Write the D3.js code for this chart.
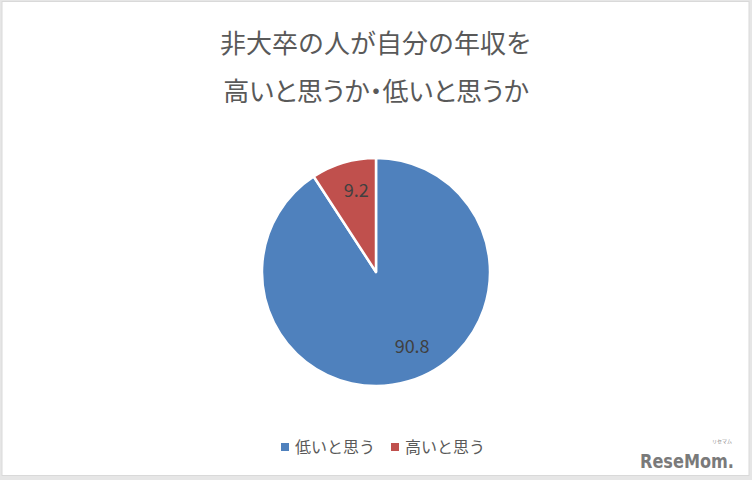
<!DOCTYPE html>
<html><head><meta charset="utf-8">
<script src="https://cdn.jsdelivr.net/npm/d3@7/dist/d3.min.js"></script>
<style>
html,body{margin:0;padding:0;background:#fff;}
svg{display:block;font-family:"Noto Sans CJK JP","Noto Sans",sans-serif;}
</style></head>
<body>
<svg id="c" width="752" height="480"></svg>
<script>
const titleLines = ["非大卒の人が自分の年収を", "高いと思うか・低いと思うか"];
const categories = ["低いと思う", "高いと思う"];
const values = [90.8, 9.2];
const colors = ["#4F81BD", "#C0504D"];

const W = 752, H = 480;
const svg = d3.select("#c");

// frame
svg.append("rect").attr("x", 0).attr("y", 0).attr("width", W).attr("height", H).attr("fill", "#e6e6e6");
svg.append("rect").attr("x", 2).attr("y", 1.5).attr("width", W - 5).attr("height", H - 6)
  .attr("fill", "#fff").attr("stroke", "#d9d9d9").attr("stroke-width", 1);

// title
svg.append("g").selectAll("text").data(titleLines).join("text")
  .attr("x", 376).attr("y", (d, i) => 53 + i * 48)
  .attr("text-anchor", "middle").attr("font-size", 26).attr("fill", "#595959")
  .style("font-feature-settings", (d, i) => i === 1 ? '"palt"' : "normal")
  .text(d => d);

// pie
const cx = 376, cy = 272, r = 114;
const data = categories.map((c, i) => ({ cat: c, value: values[i], color: colors[i] }));
const pie = d3.pie().value(d => d.value).sort(null);
const arcs = pie(data);
const arc = d3.arc().innerRadius(0).outerRadius(r);
const g = svg.append("g").attr("transform", `translate(${cx},${cy})`);
g.selectAll("path").data(arcs).join("path")
  .attr("d", arc).attr("fill", d => d.data.color)
  .attr("stroke", "#fff").attr("stroke-width", 2.5).attr("stroke-linejoin", "round");

// labels (Excel best-fit: shift big label slightly)
const labelR = r * 0.73;
const angleShift = [-0.16, 0.05];
g.selectAll("text.lbl").data(arcs).join("text").attr("class", "lbl")
  .attr("transform", (d, i) => {
    const a = (d.startAngle + d.endAngle) / 2 + angleShift[i];
    return `translate(${labelR * Math.sin(a)},${-labelR * Math.cos(a)})`;
  })
  .attr("text-anchor", "middle").attr("dy", "0.35em")
  .attr("font-size", 18).attr("fill", "#404040")
  .text(d => d.data.value.toFixed(1));

// legend
const legX = [285, 395];
const leg = svg.append("g").selectAll("g").data(data).join("g")
  .attr("transform", (d, i) => `translate(${legX[i]},447)`);
leg.append("rect").attr("x", -4).attr("y", -4).attr("width", 8).attr("height", 8).attr("fill", d => d.color);
leg.append("text").attr("x", 10).attr("dy", "0.35em").attr("font-size", 16).attr("fill", "#595959").text(d => d.cat);

// logo
svg.append("text").attr("x", 640).attr("y", 468).attr("font-size", 20).attr("font-weight", "bold")
  .attr("font-family", "'DejaVu Sans',sans-serif").attr("fill", "#7a7a7a")
  .attr("textLength", 94).attr("lengthAdjust", "spacingAndGlyphs")
  .text("ReseMom.");
svg.append("text").attr("x", 722).attr("y", 443).attr("font-size", 5).attr("text-anchor", "middle")
  .attr("fill", "#888").text("リセマム");
</script>
</body></html>
